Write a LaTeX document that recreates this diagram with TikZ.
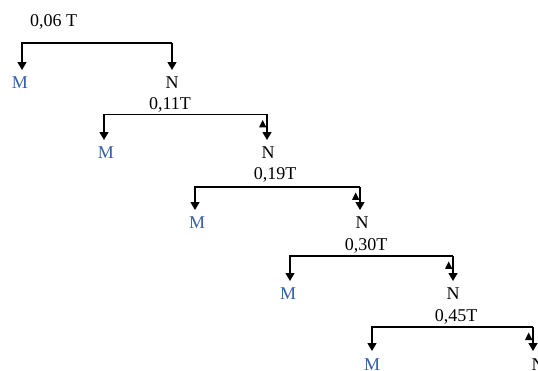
\documentclass[tikz,border=0pt]{standalone}
\usepackage{fontspec}
\setmainfont{Liberation Serif}
\usetikzlibrary{arrows.meta}
\definecolor{mblue}{RGB}{52,94,168}
\begin{document}
\begin{tikzpicture}[x=1pt,y=-1pt,
  txt/.style={anchor=base,inner xsep=1pt,inner ysep=7pt,font=\fontsize{18}{20}\selectfont},
  mnode/.style={txt,text=mblue},
  nnode/.style={txt,text=black},
  lab/.style={anchor=base,inner sep=1pt,font=\fontsize{18}{20}\selectfont},
  link/.style={line width=1.3pt,draw=black},
  tip/.style={link,-{Triangle[length=8pt,width=9pt]}},
  stray/.style={fill=black}]
\useasboundingbox (0,0) rectangle (538,371);
% level 1
\node[lab] (t1) at (53.5,26.7) {0,06 T};
\coordinate (a1) at (22,43);
\coordinate (b1) at (172,43);
\node[mnode] (m1) at (20,89) {M};
\node[nnode] (n1) at (172,89) {N};
% level 2
\node[lab] (t2) at (170,110) {0,11T};
\coordinate (a2) at (104,114.5);
\coordinate (b2) at (267,114.5);
\node[mnode] (m2) at (106,159) {M};
\node[nnode] (n2) at (268,159) {N};
% level 3
\node[lab] (t3) at (275,179.3) {0,19T};
\coordinate (a3) at (195,187);
\coordinate (b3) at (360,187);
\node[mnode] (m3) at (197,229) {M};
\node[nnode] (n3) at (362,229) {N};
% level 4
\node[lab] (t4) at (366,250.7) {0,30T};
\coordinate (a4) at (290,256);
\coordinate (b4) at (453,256);
\node[mnode] (m4) at (288,300) {M};
\node[nnode] (n4) at (453,300) {N};
% level 5
\node[lab] (t5) at (456,321.7) {0,45T};
\coordinate (a5) at (372,327);
\coordinate (b5) at (533,327);
\node[mnode] (m5) at (372,370) {M};
\node[nnode] (n5) at (538,370) {N};
% connectors
\foreach \i in {1,...,5}{
  \draw[tip] (b\i) -- (a\i) -- (a\i |- m\i.north);
  \draw[tip] (b\i) -- (b\i |- n\i.north);
}
% stray arrowheads beside the right branches
\foreach \i in {2,...,5}{
  \fill[stray] ([shift={(-8,13)}]b\i) -- ([shift={(-0.6,13)}]b\i) -- ([shift={(-4.3,5.5)}]b\i) -- cycle;
}
\end{tikzpicture}
\end{document}
